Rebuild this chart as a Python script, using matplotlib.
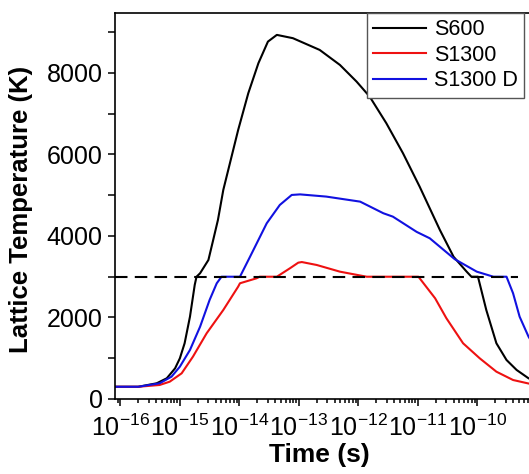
import numpy as np
import matplotlib
matplotlib.use('Agg')
import matplotlib.pyplot as plt
from matplotlib.ticker import FixedLocator, LogFormatterSciNotation, MultipleLocator, NullFormatter

plt.rcParams['font.family'] = ['Liberation Sans', 'DejaVu Sans']
plt.rcParams['mathtext.fontset'] = 'custom'
plt.rcParams['mathtext.rm'] = 'Liberation Sans'
plt.rcParams['mathtext.it'] = 'Liberation Sans:italic'
plt.rcParams['mathtext.bf'] = 'Liberation Sans:bold'

# time given as log10(t / s), temperature in K
s600_logt = [-16.09, -15.7, -15.39, -15.22, -15.08, -15.0, -14.92, -14.83, -14.75, -14.72,
             -14.66, -14.52, -14.44, -14.36, -14.27, -14.02, -13.85, -13.68, -13.52, -13.37,
             -13.10, -12.65, -12.31, -12.03, -11.81, -11.53, -11.25, -10.97, -10.63, -10.40,
             -10.18, -10.10, -9.99, -9.85, -9.68, -9.51, -9.34, -9.14, -9.0]
s600_T = [300, 300, 385, 508, 753, 998, 1367, 2020, 2800, 3000,
          3085, 3411, 3900, 4393, 5129, 6601, 7502, 8238, 8768, 8933,
          8852, 8564, 8196, 7787, 7419, 6766, 6029, 5210, 4147, 3490,
          3124, 3000, 3000, 2184, 1367, 957, 712, 508, 420]

s1300_logt = [-16.09, -15.7, -15.34, -15.17, -14.97, -14.78, -14.55, -14.27, -14.02, -13.99,
              -13.71, -13.66, -13.37, -13.15, -13.01, -12.95, -12.70, -12.31, -11.86, -10.99,
              -10.71, -10.52, -10.24, -9.96, -9.68, -9.40, -9.14, -9.0]
s1300_T = [300, 300, 344, 425, 630, 1039, 1612, 2184, 2757, 2839,
           2962, 3000, 3000, 3207, 3345, 3360, 3288, 3124, 3000, 3000,
           2471, 1980, 1367, 998, 670, 466, 380, 350]

s1300d_logt = [-16.09, -15.7, -15.34, -15.14, -15.0, -14.83, -14.66, -14.50, -14.38, -14.30,
               -13.99, -13.82, -13.54, -13.32, -13.12, -12.98, -12.54, -11.97, -11.58, -11.42,
               -11.02, -10.80, -10.38, -10.01, -9.73, -9.51, -9.40, -9.29, -9.14, -9.0]
s1300d_T = [300, 300, 385, 548, 793, 1203, 1774, 2430, 2839, 3000,
            3000, 3492, 4311, 4761, 5006, 5020, 4966, 4842, 4557, 4474,
            4100, 3943, 3430, 3124, 3000, 3000, 2594, 2020, 1529, 1200]

# melting threshold line
melt_logt = [-16.09, -9.32]
melt_T = [3000, 3000]

# decades that carry a label
x_decades = [-16, -15, -14, -13, -12, -11, -10]

fig = plt.figure(figsize=(5.29, 4.74), dpi=100)
ax = fig.add_axes([115/529, 75/474, 415.5/529, 386/474])

ax.plot(10**np.array(s600_logt), s600_T, color='black', lw=1.5, label='S600')
ax.plot(10**np.array(s1300_logt), s1300_T, color='#ee1111', lw=1.5, label='S1300')
ax.plot(10**np.array(s1300d_logt), s1300d_T, color='#1111e0', lw=1.5, label='S1300 D')
ax.plot(10**np.array(melt_logt), melt_T, color='black', lw=1.5, dashes=(6, 3.5), zorder=5)

ax.set_xscale('log')
ax.set_xlim(10**-16.09, 10**-9.107)
ax.set_ylim(0, 9470)

major_x = [10.0**d for d in x_decades]
minor_x = [m * 10.0**d for d in [-17] + x_decades for m in range(2, 10)]
minor_x = [v for v in minor_x if 10**-16.09 <= v <= 10**-9.107]
ax.xaxis.set_major_locator(FixedLocator(major_x))
ax.xaxis.set_major_formatter(LogFormatterSciNotation())
ax.xaxis.set_minor_locator(FixedLocator(minor_x))
ax.xaxis.set_minor_formatter(NullFormatter())
ax.yaxis.set_major_locator(MultipleLocator(2000))
ax.yaxis.set_minor_locator(MultipleLocator(1000))

ax.tick_params(which='both', direction='out', width=1.1, labelsize=18)
ax.tick_params(which='major', length=5)
ax.tick_params(which='minor', length=3)
ax.tick_params(axis='y', which='minor', length=5)
ax.tick_params(axis='x', pad=6)
ax.tick_params(axis='y', pad=4)
for sp in ax.spines.values():
    sp.set_linewidth(1.2)

ax.set_xlabel('Time (s)', fontsize=19, fontweight='bold')
ax.set_ylabel('Lattice Temperature (K)', fontsize=18.5, fontweight='bold')
ax.xaxis.set_label_coords(0.491, -0.115)
ax.yaxis.set_label_coords(-0.197, 0.49)

leg = ax.legend(loc='upper left', bbox_to_anchor=(367/529, 1 - 13/474),
                bbox_transform=fig.transFigure, fontsize=15.5, frameon=True,
                fancybox=False, framealpha=1, edgecolor='#555555',
                borderpad=0.3, labelspacing=0.2, handlelength=2.45,
                handletextpad=0.35, borderaxespad=0)
leg.get_frame().set_linewidth(1.0)

fig.savefig('out.png', dpi=100)
